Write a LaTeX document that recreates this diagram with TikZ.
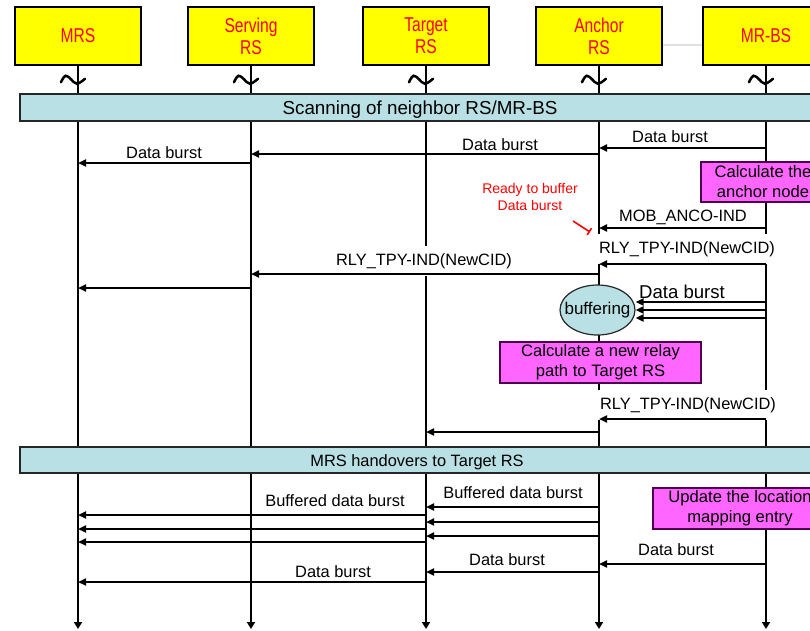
\documentclass[tikz,border=0pt]{standalone}
\usepackage{fontspec}
\setmainfont{Liberation Sans}
\newfontfamily\narrowfont[FakeStretch=0.78]{Liberation Sans}
\usetikzlibrary{arrows.meta,shapes.geometric}
\definecolor{hdryellow}{RGB}{255,255,0}
\definecolor{hdrred}{RGB}{255,0,0}
\definecolor{barblue}{RGB}{185,224,228}
\definecolor{boxpink}{RGB}{255,102,255}
\definecolor{pinkedge}{RGB}{80,0,80}
\begin{document}
\begin{tikzpicture}[x=1pt,y=-1pt,
  hdr/.style={draw=black, line width=1.5pt, fill=hdryellow, minimum width=126pt, minimum height=58pt,
    font=\narrowfont\fontsize{20}{22}\selectfont, text=hdrred, align=center, inner sep=0pt},
  lifeend/.style={line width=2.2pt, -{Triangle[length=7pt,width=8pt]}},
  tilde/.style={line width=2.5pt, line cap=round},
  bar/.style={draw=black!85, line width=1.2pt, fill=barblue, inner sep=0pt},
  lbl/.style={font=\fontsize{16.4}{18}\selectfont, inner sep=0pt},
  wlbl/.style={lbl, fill=white, text height=12pt, text depth=3.5pt, inner xsep=6pt, inner ysep=7pt},
  msg/.style={line width=2pt, -{Triangle[length=8pt,width=7pt]}},
  pinkbox/.style={draw=pinkedge, line width=1.2pt, fill=boxpink, align=center, inner sep=0pt,
    font=\fontsize{16.6}{20}\selectfont},
  redlbl/.style={text=hdrred, align=center, inner sep=0pt, font=\fontsize{14}{17}\selectfont}
]
\useasboundingbox (0,0) rectangle (810,630);

% header boxes
\node[hdr] (hmrs) at (78,36) {MRS};
\node[hdr] (hserv) at (251,36) {Serving\\RS};
\node[hdr] (htgt) at (426,36) {Target\\RS};
\node[hdr] (hanc) at (599,36) {Anchor\\RS};
\node[hdr] (hbs) at (766,36) {MR-BS};
\draw[black!12, line width=2pt] (hanc.east |- 0,45) -- (hbs.west |- 0,45);

% lifelines
\coordinate (emrs) at (78,629);
\coordinate (eserv) at (251,629);
\coordinate (etgt) at (426,629);
\coordinate (eanc) at (599,629);
\coordinate (ebs) at (766,629);
\draw[lifeend] (hmrs.south) -- (emrs);
\draw[lifeend] (hserv.south) -- (eserv);
\draw[lifeend] (htgt.south) -- (etgt);
\draw[lifeend] (hanc.south) -- (eanc);
\draw[lifeend] (hbs.south) -- (ebs);

% break marks
\foreach \n in {hmrs,hserv,htgt,hanc,hbs}
  \draw[tilde, shift={(\n.south)}] plot[smooth, tension=0.7] coordinates {(-17,16.5) (-12.5,10) (-7,13.5) (-1,18) (7,13)};

% phase bars
\node[bar, minimum width=800pt, minimum height=27pt] (scan) at (420,107.5) {};
\node[font=\fontsize{18.8}{20}\selectfont, inner sep=0pt, anchor=base] (scantxt) at (420,114) {Scanning of neighbor RS/MR-BS};
\node[bar, minimum width=794pt, minimum height=26pt] (hobar) at (417,460) {};
\node[font=\fontsize{16.4}{18}\selectfont, inner sep=0pt, anchor=base] (hotxt) at (417,466) {MRS handovers to Target RS};

% action boxes
\node[pinkbox, minimum width=124pt, minimum height=40pt] (calcanc) at (763,182) {Calculate the\\anchor node};
\node[pinkbox, minimum width=201pt, minimum height=41pt] (calcpath) at (600.5,362.5) {Calculate a new relay\\path to Target RS};
\node[pinkbox, minimum width=174pt, minimum height=41pt] (update) at (740,508.5) {Update the location\\mapping entry};
\node[ellipse, draw=black!85, line width=1.2pt, fill=barblue, minimum width=75pt, minimum height=50pt, inner sep=0pt] (buf) at (597.5,310) {};
\node[font=\fontsize{17}{18}\selectfont, inner sep=0pt] (buftxt) at (buf) {buffering};

% labels with white background
\node[wlbl, anchor=base] (rly1) at (687,253) {RLY\_TPY-IND(NewCID)};
\node[wlbl, anchor=base] (rly2) at (424,265) {RLY\_TPY-IND(NewCID)};
\node[wlbl, anchor=base] (rly3) at (688,409) {RLY\_TPY-IND(NewCID)};

% messages
\draw[msg] (hbs |- 0,148) -- (hanc |- 0,148);
\draw[msg] (hanc |- 0,154) -- (hserv |- 0,154);
\draw[msg] (hserv |- 0,163) -- (hmrs |- 0,163);
\draw[msg] (hbs |- 0,228) -- (hanc |- 0,228);
\draw[msg] (hbs |- 0,264) -- (hanc |- 0,264);
\draw[msg] (hanc |- 0,274) -- (hserv |- 0,274);
\draw[msg] (hserv |- 0,288) -- (hmrs |- 0,288);
\foreach \y in {302,310,318}
  \draw[msg] (hbs |- 0,\y) -- (buf.east |- 0,\y);
\draw[msg] (hbs |- 0,419) -- (hanc |- 0,419);
\draw[msg] (hanc |- 0,432) -- (htgt |- 0,432);
\foreach \y in {507,522,536}
  \draw[msg] (hanc |- 0,\y) -- (htgt |- 0,\y);
\foreach \y in {515,529,542}
  \draw[msg] (htgt |- 0,\y) -- (hmrs |- 0,\y);
\draw[msg] (hbs |- 0,564) -- (hanc |- 0,564);
\draw[msg] (hanc |- 0,572) -- (htgt |- 0,572);
\draw[msg] (htgt |- 0,582) -- (hmrs |- 0,582);

% message labels
\node[lbl, anchor=base] (l1) at (670,142.5) {Data burst};
\node[lbl, anchor=base] (l2) at (500,150.5) {Data burst};
\node[lbl, anchor=base] (l3) at (164,158.5) {Data burst};
\node[lbl, anchor=base] (l4) at (683,221.5) {MOB\_ANCO-IND};
\node[inner sep=0pt, anchor=base, font=\fontsize{18.6}{20}\selectfont] (l5) at (682,298.5) {Data burst};
\node[lbl, anchor=base] (l6) at (513,498.5) {Buffered data burst};
\node[lbl, anchor=base] (l7) at (335,506.5) {Buffered data burst};
\node[lbl, anchor=base] (l8) at (676,555.5) {Data burst};
\node[lbl, anchor=base] (l9) at (507,565.5) {Data burst};
\node[lbl, anchor=base] (l10) at (333,577.5) {Data burst};

% annotation
\node[redlbl] (ready) at (530,196.5) {Ready to buffer\\Data burst};
\coordinate (rdA) at (573,221);
\coordinate (rdB) at (590,232);
\draw[hdrred, line width=1.6pt, -{Bar[width=8pt,line width=1.6pt]}] (rdA) -- (rdB);
\end{tikzpicture}
\end{document}
